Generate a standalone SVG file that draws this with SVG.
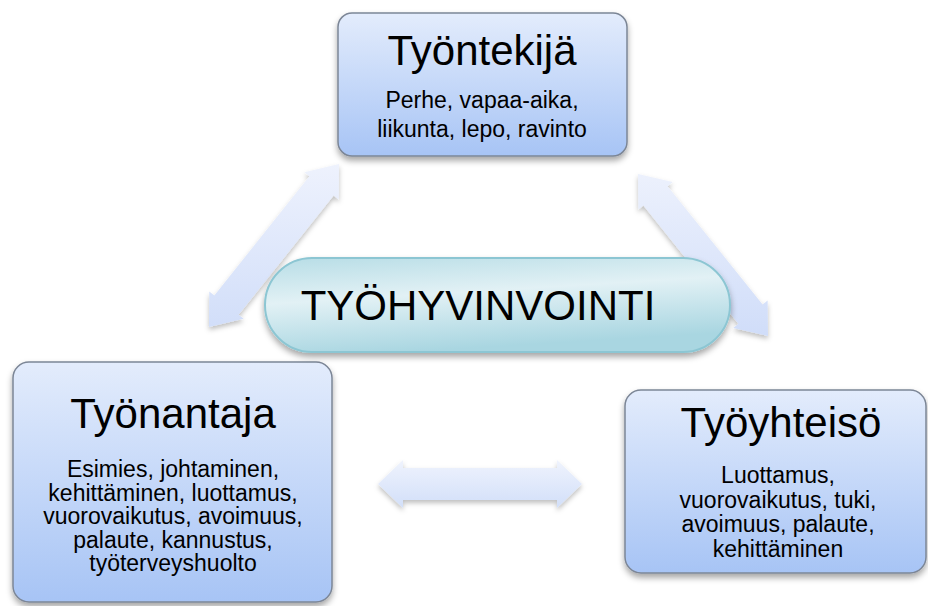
<svg xmlns="http://www.w3.org/2000/svg" width="928" height="606" viewBox="0 0 928 606">
<defs>
<linearGradient id="boxG" x1="0" y1="0" x2="0" y2="1">
<stop offset="0" stop-color="#e3ecfc"/>
<stop offset="1" stop-color="#a7c4f5"/>
</linearGradient>
<linearGradient id="diagG" gradientUnits="userSpaceOnUse" x1="0" y1="164" x2="0" y2="336">
<stop offset="0" stop-color="#eef2fd"/>
<stop offset="1" stop-color="#d0ddf9"/>
</linearGradient>
<linearGradient id="horG" x1="0" y1="0" x2="0" y2="1">
<stop offset="0" stop-color="#eff3fd"/>
<stop offset="1" stop-color="#d2dff9"/>
</linearGradient>
<linearGradient id="pillG" x1="0" y1="0" x2="0.3" y2="1">
<stop offset="0" stop-color="#b7dde6"/>
<stop offset="0.45" stop-color="#e2f1f5"/>
<stop offset="1" stop-color="#a9d6e1"/>
</linearGradient>
<filter id="sh" x="-20%" y="-20%" width="140%" height="150%">
<feDropShadow dx="0" dy="4" stdDeviation="3" flood-color="#000" flood-opacity="0.35"/>
</filter>
<filter id="ash" x="-20%" y="-20%" width="140%" height="150%">
<feDropShadow dx="0" dy="3" stdDeviation="2.5" flood-color="#000" flood-opacity="0.25"/>
</filter>
</defs>
<style>
.box{fill:url(#boxG);stroke:#7c8696;stroke-width:1.5;filter:url(#sh)}
.arr{filter:url(#ash)}
.t{font-family:"Liberation Sans",Arial,sans-serif;fill:#000;text-anchor:middle}
.title{font-size:42px}
.body{font-size:23px}
</style>
<rect width="928" height="606" fill="#fff"/>
<g id="connectors">
<path class="arr" fill="url(#diagG)" d="M209,327 L209.26,291.39 L214.34,295.45 L309.42,176.23 L304.34,172.17 L339,164 L338.74,199.61 L333.66,195.55 L238.58,314.77 L243.66,318.83 Z"/>
<path class="arr" fill="url(#diagG)" d="M638,174 L672.69,182.07 L667.62,186.14 L762.56,304.46 L767.63,300.39 L768,336 L733.31,327.93 L738.38,323.86 L643.44,205.54 L638.37,209.61 Z"/>
<path class="arr" fill="url(#horG)" d="M378,484 L403,460 L403,468 L557,468 L557,460 L582,484 L557,508 L557,500 L403,500 L403,508 Z"/>
</g>
<g id="tyontekija">
<rect class="box" x="338" y="13" width="289" height="143" rx="14"/>
<text class="t title" x="482" y="65">Työntekijä</text>
<text class="t body" x="482" y="108">Perhe, vapaa-aika,</text>
<text class="t body" x="482" y="137">liikunta, lepo, ravinto</text>
</g>
<g id="tyonantaja">
<rect class="box" x="13" y="362" width="319" height="240" rx="16"/>
<text class="t title" x="173" y="428">Työnantaja</text>
<text class="t body" x="173" y="477">Esimies, johtaminen,</text>
<text class="t body" x="173" y="500.5">kehittäminen, luottamus,</text>
<text class="t body" x="173" y="524">vuorovaikutus, avoimuus,</text>
<text class="t body" x="173" y="547.5">palaute, kannustus,</text>
<text class="t body" x="173" y="571">työterveyshuolto</text>
</g>
<g id="tyoyhteiso">
<rect class="box" x="625" y="390" width="301" height="183" rx="16"/>
<text class="t title" x="781" y="437">Työyhteisö</text>
<text class="t body" x="778" y="483">Luottamus,</text>
<text class="t body" x="778" y="508">vuorovaikutus, tuki,</text>
<text class="t body" x="778" y="532">avoimuus, palaute,</text>
<text class="t body" x="778" y="557">kehittäminen</text>
</g>
<g id="tyohyvinvointi">
<rect x="265" y="258" width="465" height="94" rx="47" fill="url(#pillG)" stroke="#8cc6d3" stroke-width="2" filter="url(#sh)"/>
<text class="t title" x="478" y="320">TYÖHYVINVOINTI</text>
</g>
</svg>
